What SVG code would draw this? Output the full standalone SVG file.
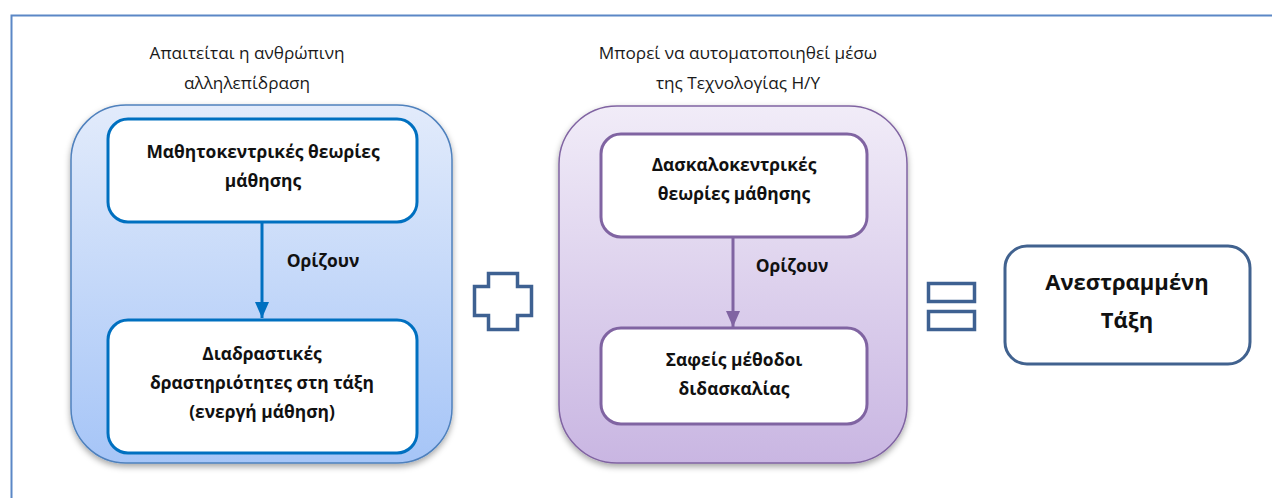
<svg xmlns="http://www.w3.org/2000/svg" width="1272" height="498" viewBox="0 0 1272 498">
  <style>
    .cap { font-family: "Open Sans", "Liberation Sans", sans-serif; font-size: 17.2px; fill: #1a1a1a; text-anchor: middle; }
    .lbl { font-family: "Open Sans", "Liberation Sans", sans-serif; font-size: 17.4px; font-weight: bold; fill: #111; text-anchor: middle; }
    .big { font-family: "Open Sans", "Liberation Sans", sans-serif; font-size: 22px; font-weight: bold; fill: #111; text-anchor: middle; }
    .boxB { fill: #ffffff; stroke: #0070c0; stroke-width: 3; }
    .boxP { fill: #ffffff; stroke: #8064a2; stroke-width: 3; }
    .sym { fill: none; stroke: #3e6192; stroke-width: 3.5; }
  </style>
  <defs>
    <linearGradient id="gBlue" x1="0" y1="0" x2="0" y2="1">
      <stop offset="0" stop-color="#e2ebfb"/>
      <stop offset="1" stop-color="#a6c5f7"/>
    </linearGradient>
    <linearGradient id="gPurple" x1="0" y1="0" x2="0" y2="1">
      <stop offset="0" stop-color="#f1ecf8"/>
      <stop offset="1" stop-color="#c9b6e2"/>
    </linearGradient>
    <filter id="shadow" x="-10%" y="-10%" width="120%" height="125%">
      <feDropShadow dx="0" dy="3" stdDeviation="3" flood-color="#000" flood-opacity="0.35"/>
    </filter>
    <!-- arrowheads drawn along +x so orient="auto" follows the line -->
    <marker id="arrB" viewBox="0 0 16 14" refX="16" refY="7" markerWidth="16" markerHeight="14" markerUnits="userSpaceOnUse" orient="auto">
      <path d="M0,0 L16,7 L0,14 Z" fill="#0070c0"/>
    </marker>
    <marker id="arrP" viewBox="0 0 16 14" refX="16" refY="7" markerWidth="16" markerHeight="14" markerUnits="userSpaceOnUse" orient="auto">
      <path d="M0,0 L16,7 L0,14 Z" fill="#8064a2"/>
    </marker>
  </defs>

  <rect width="1272" height="498" fill="#ffffff"/>

  <!-- page frame -->
  <path d="M11.5,498 L11.5,15.5 L1272,15.5" fill="none" stroke="#5b87c6" stroke-width="2"/>

  <!-- learner-centred group -->
  <g id="group-human">
    <rect x="71" y="105" width="381" height="358" rx="55" fill="url(#gBlue)" stroke="#4f81bd" stroke-width="1.5" filter="url(#shadow)"/>
    <text class="cap" x="247" y="59">Απαιτείται η ανθρώπινη</text>
    <text class="cap" x="247" y="89">αλληλεπίδραση</text>
  </g>
  <g id="node-learner-theories">
    <rect class="boxB" x="108" y="119" width="309" height="103" rx="20"/>
    <text class="lbl" x="263" y="158">Μαθητοκεντρικές θεωρίες</text>
    <text class="lbl" x="263" y="187">μάθησης</text>
  </g>
  <g id="node-interactive">
    <rect class="boxB" x="108" y="320" width="309" height="133" rx="20"/>
    <text class="lbl" x="262" y="360">Διαδραστικές</text>
    <text class="lbl" x="262" y="389">δραστηριότητες στη τάξη</text>
    <text class="lbl" x="262" y="418">(ενεργή μάθηση)</text>
  </g>

  <!-- teacher-centred group -->
  <g id="group-computer">
    <rect x="559" y="106" width="348" height="357" rx="58" fill="url(#gPurple)" stroke="#8064a2" stroke-width="1.5" filter="url(#shadow)"/>
    <text class="cap" x="738" y="59">Μπορεί να αυτοματοποιηθεί μέσω</text>
    <text class="cap" x="738" y="89">της Τεχνολογίας Η/Υ</text>
  </g>
  <g id="node-teacher-theories">
    <rect class="boxP" x="601" y="134" width="266" height="103" rx="20"/>
    <text class="lbl" x="734" y="171">Δασκαλοκεντρικές</text>
    <text class="lbl" x="734" y="200">θεωρίες μάθησης</text>
  </g>
  <g id="node-methods">
    <rect class="boxP" x="601" y="328" width="266" height="96" rx="20"/>
    <text class="lbl" x="734" y="366">Σαφείς μέθοδοι</text>
    <text class="lbl" x="734" y="395">διδασκαλίας</text>
  </g>

  <!-- operators -->
  <g id="plus">
    <path class="sym" d="M488.5,273.5 H517.5 V286.5 H531.5 V315.5 H517.5 V329.5 H488.5 V315.5 H474.5 V286.5 H488.5 Z"/>
  </g>
  <g id="equals">
    <rect class="sym" x="928.5" y="283.5" width="46" height="18"/>
    <rect class="sym" x="928.5" y="311.5" width="46" height="18"/>
  </g>

  <!-- result -->
  <g id="node-flipped">
    <rect x="1005" y="246" width="245" height="118" rx="22" fill="#ffffff" stroke="#41628f" stroke-width="3"/>
    <text class="big" x="1127" y="290">Ανεστραμμένη</text>
    <text class="big" x="1127" y="328">Τάξη</text>
  </g>

  <!-- connectors -->
  <g id="connectors">
    <line x1="262" y1="222" x2="262" y2="318" stroke="#0070c0" stroke-width="3" marker-end="url(#arrB)"/>
    <text class="lbl" x="323" y="267">Ορίζουν</text>
    <line x1="733" y1="237" x2="733" y2="327" stroke="#8064a2" stroke-width="3" marker-end="url(#arrP)"/>
    <text class="lbl" x="792" y="272">Ορίζουν</text>
  </g>
</svg>
